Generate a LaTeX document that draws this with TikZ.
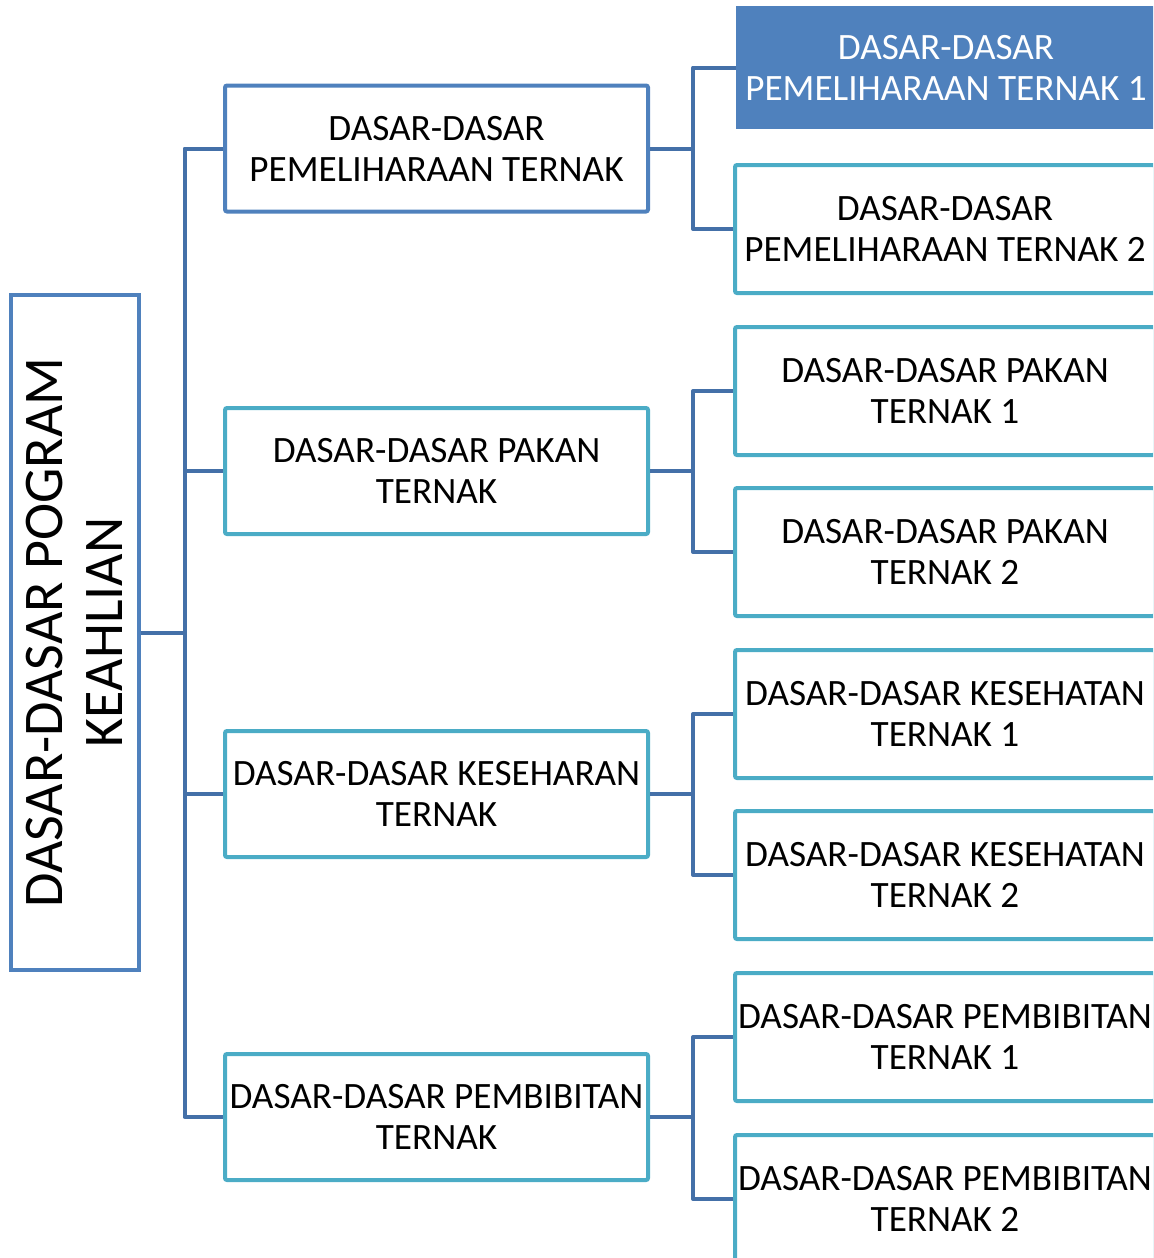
\documentclass[tikz,border=0pt]{standalone}
\usepackage{fontspec}
\setmainfont{Carlito}

\definecolor{boxblue}{HTML}{4F81BD}
\definecolor{boxteal}{HTML}{4BACC6}
\definecolor{linkblue}{HTML}{4470A8}

\tikzset{
    root/.style = {
        draw=boxblue,
        line width=2pt,
        rotate=90,
        minimum width=337.5pt,
        minimum height=64pt,
        inner sep=0pt,
        align=center,
        font=\fontsize{28}{30}\selectfont
    },
    topic/.style = {
        draw=#1,
        line width=2pt,
        rounded corners=1pt,
        minimum width=211.5pt,
        minimum height=63pt,
        inner sep=0pt,
        align=center,
        font=\fontsize{18.6}{20.5}\selectfont
    },
    subtopic/.style = {
        topic=boxteal,
        minimum width=210pt,
        minimum height=64pt
    },
    picked/.style = {
        fill=boxblue,
        text=white,
        inner sep=0pt,
        minimum width=210pt,
        minimum height=61.5pt,
        align=center,
        font=\fontsize{18.6}{20.5}\selectfont
    },
    link/.style = {
        draw=linkblue,
        line width=2pt,
        line join=round
    }
}

\begin{document}
\begin{tikzpicture}[x=0.5pt,y=-0.5pt]
    \clip (0,0) rectangle (1153,1258);

    % Draw root box
    \node[root] (root) at (74.5,632.5) {DASAR-DASAR POGRAM\\KEAHLIAN};

    % Draw topics
    \node[topic=boxblue] (pelihara) at (436.5,148.5) {DASAR-DASAR\\PEMELIHARAAN TERNAK};
    \node[topic=boxteal] (pakan)    at (436.5,471)   {DASAR-DASAR PAKAN\\TERNAK};
    \node[topic=boxteal] (sehat)    at (436.5,794)   {DASAR-DASAR KESEHARAN\\TERNAK};
    \node[topic=boxteal] (bibit)    at (436.5,1117)  {DASAR-DASAR PEMBIBITAN\\TERNAK};

    % Draw subtopics
    \node[picked]   (pelihara1) at (946,67.5) {DASAR-DASAR\\PEMELIHARAAN TERNAK 1};
    \node[subtopic] (pelihara2) at (945,229)  {DASAR-DASAR\\PEMELIHARAAN TERNAK 2};
    \node[subtopic] (pakan1)    at (945,391)  {DASAR-DASAR PAKAN\\TERNAK 1};
    \node[subtopic] (pakan2)    at (945,552)  {DASAR-DASAR PAKAN\\TERNAK 2};
    \node[subtopic] (sehat1)    at (945,714)  {DASAR-DASAR KESEHATAN\\TERNAK 1};
    \node[subtopic] (sehat2)    at (945,875)  {DASAR-DASAR KESEHATAN\\TERNAK 2};
    \node[subtopic] (bibit1)    at (945,1037) {DASAR-DASAR PEMBIBITAN\\TERNAK 1};
    \node[subtopic] (bibit2)    at (945,1199) {DASAR-DASAR PEMBIBITAN\\TERNAK 2};

    % Draw links from root
    \foreach \t in {pelihara,pakan,sehat,bibit}
        \draw[link] (root.south) -- ++(44,0) |- (\t.west);

    % Draw links to subtopics
    \foreach \t in {pelihara,pakan,sehat,bibit} {
        \draw[link] (\t.east) -- ++(43,0) |- (\t1.west);
        \draw[link] (\t.east) -- ++(43,0) |- (\t2.west);
    }
\end{tikzpicture}
\end{document}
